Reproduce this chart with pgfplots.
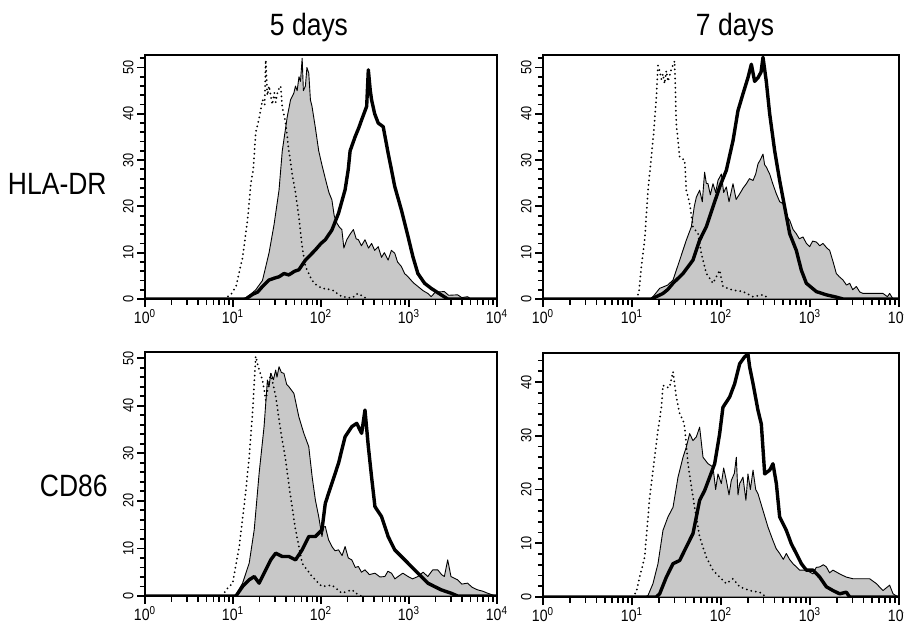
\documentclass[border=0pt]{standalone}
\usepackage{fontspec}
\setmainfont{Liberation Sans}[FakeStretch=0.86]
\usepackage{pgfplots}
\usepackage{pgfplotstable}
\pgfplotsset{compat=1.18}
\definecolor{histgray}{RGB}{200,200,200}

% ---------------- Top-left: HLA-DR, 5 days ----------------
\pgfplotstableread{
lx y
0.90 0
0.977 1.0
1.034 2.7
1.109 9
1.165 17
1.203 25
1.230 28
1.259 36
1.297 39
1.335 43
1.360 42
1.372 51.6
1.390 44
1.41 46
1.447 42
1.47 44.5
1.485 42.5
1.51 45
1.541 46
1.56 41.5
1.598 38
1.635 32
1.673 27
1.71 23
1.748 17.8
1.786 11.3
1.823 7
1.898 4
1.95 3
2.011 2.3
2.124 2
2.237 0.5
2.35 0.2
2.42 1.2
2.5 0.3
2.55 0
}\tldot
\pgfplotstableread{
lx y
1.10 0
1.147 0.3
1.20 1
1.259 2
1.335 4
1.410 10
1.466 16
1.523 23.5
1.560 32
1.617 39.4
1.654 43
1.692 44.5
1.71 46
1.729 45
1.75 48
1.767 47
1.786 52
1.80 45
1.823 46
1.84 50
1.861 48.8
1.88 43
1.898 41.6
1.936 37
1.974 32
2.01 29
2.049 26
2.09 23
2.124 21.4
2.15 18
2.180 16.4
2.21 15.5
2.237 15
2.26 11
2.293 12.8
2.331 14
2.368 15
2.40 13
2.425 12.8
2.46 11.5
2.5 12.8
2.54 11
2.575 12
2.61 10.5
2.650 11.3
2.688 9
2.72 10
2.763 8.4
2.80 10.5
2.838 9.9
2.87 8
2.914 7
2.95 5.5
2.989 4.8
3.05 3.5
3.102 2.7
3.16 1.8
3.214 1.2
3.252 0.5
3.30 1.5
3.402 1.6
3.45 0.8
3.553 0.9
3.60 0.3
3.665 0.5
3.703 0
}\tlgray
\pgfplotstableread{
lx y
0 0
1.147 0
1.222 1
1.28 1.5
1.335 2.7
1.410 4.1
1.47 4.5
1.523 4.8
1.58 5.5
1.635 5.2
1.70 6
1.748 6.3
1.823 8.4
1.88 9.5
1.936 10.6
2.00 12
2.049 12.8
2.124 14.9
2.199 18.5
2.274 23.6
2.31 28
2.331 32
2.387 35
2.43 37
2.462 38.7
2.519 41.6
2.538 49.5
2.56 45
2.575 43
2.61 40
2.650 38
2.707 37.2
2.763 31.5
2.80 28
2.838 24.3
2.914 19.2
2.989 13.5
3.045 9.1
3.101 5.5
3.177 3.4
3.252 2.3
3.365 0.9
3.440 0
4 0
}\tlthick

% ---------------- Top-right: HLA-DR, 7 days ----------------
\pgfplotstableread{
lx y
1.05 0
1.079 1.6
1.105 7
1.142 12.7
1.180 23.5
1.217 30.6
1.243 35.7
1.273 43.5
1.292 50.4
1.311 49.3
1.330 47.5
1.348 48.6
1.366 46.5
1.386 49.3
1.404 47
1.42 48
1.442 49.6
1.479 51.4
1.498 37.8
1.536 30.6
1.592 30
1.610 23.5
1.648 20.6
1.685 15.6
1.742 14.1
1.779 9.8
1.835 5.5
1.910 3.4
1.985 6.2
2.022 2.7
2.135 1.9
2.247 1.6
2.360 0.5
2.472 0.9
2.547 0
}\trdot
\pgfplotstableread{
lx y
1.20 0
1.236 0.5
1.311 2.3
1.40 3
1.461 4.1
1.536 8.4
1.610 12.7
1.667 15.6
1.70 20
1.723 22
1.760 23.5
1.79 21
1.816 27.4
1.835 25
1.854 24.9
1.88 22.5
1.910 24.9
1.94 23
1.966 25.6
2.004 27
2.03 23
2.060 24.2
2.09 21
2.135 24.9
2.17 21.5
2.210 22.7
2.25 24
2.285 24.9
2.32 26
2.360 25.6
2.39 27
2.416 29.2
2.44 30
2.472 31.3
2.49 29
2.509 28.5
2.547 27
2.58 25
2.622 22.7
2.66 21
2.697 20.6
2.735 18
2.772 17
2.81 15
2.846 14.1
2.88 13
2.921 13.4
2.96 12
2.996 11.3
3.03 12.5
3.071 12.3
3.11 11.5
3.146 12
3.19 11
3.221 10.5
3.26 8
3.296 5.5
3.33 4.8
3.371 4.1
3.41 3
3.446 3.4
3.48 2
3.521 2.7
3.56 1.5
3.596 1.2
3.708 1.2
3.820 1.2
3.87 0.5
3.895 1.2
3.933 0
}\trgray
\pgfplotstableread{
lx y
0 0
1.217 0
1.273 0.5
1.348 1.2
1.40 2
1.461 3.4
1.573 5.5
1.685 8.4
1.760 12.7
1.835 15.6
1.910 19.9
1.985 24.2
2.060 27.8
2.135 34.2
2.191 40.7
2.247 44.3
2.303 47.8
2.341 50.7
2.378 47
2.416 47.8
2.45 49
2.472 52.2
2.509 47
2.547 40
2.603 32
2.659 25.6
2.715 19.9
2.772 14.1
2.846 10.5
2.903 6.2
2.959 3.4
3.071 1.6
3.184 0.9
3.296 0.4
3.371 0
4 0
}\trthick

% ---------------- Bottom-left: CD86, 5 days ----------------
\pgfplotstableread{
lx y
0.88 0
0.921 1.3
0.996 2.7
1.071 10.4
1.147 22.3
1.184 29.3
1.222 38.4
1.259 50.4
1.297 47.5
1.335 45.4
1.372 41.2
1.429 46.8
1.485 42
1.541 34.9
1.598 28.6
1.654 20.9
1.711 13.9
1.786 6.9
1.898 4.1
2.011 2
2.124 2.3
2.237 0.6
2.350 1.3
2.425 0.2
2.46 0
}\bldot
\pgfplotstableread{
lx y
1.00 0
1.034 0.3
1.109 2.7
1.184 6.9
1.241 13.9
1.297 25.8
1.353 35.6
1.391 45.4
1.41 44
1.429 46.8
1.46 45.5
1.485 47.5
1.50 46
1.523 48.2
1.55 47
1.579 46.8
1.61 44.5
1.635 44
1.692 42.6
1.748 37.7
1.805 34.2
1.861 31.4
1.90 25
1.936 20.2
1.974 16.7
2.011 12.5
2.03 14.5
2.049 14.6
2.086 11.8
2.124 10.4
2.16 9.5
2.199 9.7
2.24 8.5
2.274 10.4
2.31 8
2.350 7.6
2.39 6
2.425 6.2
2.46 5
2.5 5.5
2.55 4.5
2.613 4.8
2.67 4
2.726 4.1
2.76 5.2
2.801 4.8
2.84 3.6
2.876 4.1
2.93 4.8
2.989 4.1
3.04 3.6
3.102 4.1
3.16 5
3.214 4.1
3.27 5.5
3.327 5.5
3.37 4.5
3.402 4.1
3.440 7.6
3.477 4.1
3.553 3.4
3.60 2.5
3.665 2.7
3.72 1.8
3.778 1.3
3.84 1.0
3.891 0.6
3.985 0
}\blgray
\pgfplotstableread{
lx y
0 0
1.034 0
1.109 2
1.184 3.4
1.241 4.1
1.297 2.7
1.372 5.5
1.429 7.6
1.485 9
1.560 8.3
1.635 8.3
1.711 7.6
1.786 9.7
1.861 12.5
1.936 12.5
2.011 13.9
2.049 19.5
2.124 23.7
2.199 27.9
2.274 33.5
2.350 35.6
2.406 36.3
2.462 34.2
2.5 39.1
2.538 31.4
2.575 25
2.613 18.8
2.688 16.7
2.763 12.5
2.838 9.7
2.914 8.3
2.989 6.9
3.064 5.5
3.139 4.1
3.214 2.7
3.289 2
3.365 1.3
3.477 0.6
3.553 0
4 0
}\blthick

% ---------------- Bottom-right: CD86, 7 days ----------------
\pgfplotstableread{
lx y
1.00 0
1.049 0.9
1.086 3.7
1.142 7.4
1.199 18.6
1.255 26
1.292 31
1.330 35.3
1.348 39.4
1.386 39
1.423 39
1.461 41.9
1.498 37.2
1.536 34.1
1.573 32.9
1.592 31.6
1.629 24.8
1.685 18.6
1.760 11.2
1.835 7.4
1.910 5
1.985 3.7
2.060 2.5
2.135 3.4
2.210 1.9
2.322 1.2
2.434 0.9
2.509 0
}\brdot
\pgfplotstableread{
lx y
1.15 0
1.180 0.3
1.236 2.5
1.292 6.2
1.348 12.4
1.404 14.9
1.461 16.7
1.517 22.3
1.573 26
1.610 27.9
1.648 30.4
1.685 29.1
1.723 29.8
1.760 31.6
1.798 26
1.854 24.8
1.910 24.2
1.94 20
1.966 22.9
2.004 21.1
2.03 24
2.060 21.7
2.09 19
2.116 21.7
2.15 23
2.172 26
2.191 19
2.210 21.1
2.247 22.3
2.28 18
2.303 22.9
2.33 20
2.360 23.6
2.39 20
2.416 19.2
2.472 16.1
2.528 13
2.584 10.5
2.62 9
2.659 8.1
2.70 7
2.734 8.1
2.77 7
2.809 6.2
2.884 5
2.959 5
3.034 4.3
3.07 5.5
3.109 5.6
3.15 6
3.184 5.6
3.22 4.5
3.258 5
3.333 4.3
3.408 3.7
3.483 3.4
3.558 3.4
3.670 3.4
3.745 2.5
3.820 1.2
3.895 2.2
3.933 0.6
3.989 0
}\brgray
\pgfplotstableread{
lx y
0 0
1.273 0
1.311 0.6
1.386 3.7
1.461 6.2
1.536 6.8
1.610 9.3
1.685 11.8
1.723 14.9
1.760 18
1.816 19.8
1.873 22.3
1.929 24.8
1.985 30.4
2.022 35.3
2.097 37.2
2.154 39.7
2.210 43.4
2.266 44.7
2.303 45.2
2.322 42.8
2.360 39.7
2.416 34.7
2.453 32.2
2.491 22.9
2.547 23.6
2.584 24.8
2.622 21.1
2.659 14.9
2.734 12.4
2.790 9.9
2.846 8.1
2.903 6.2
2.959 5
3.034 5
3.109 3.7
3.184 1.9
3.258 1.2
3.333 0.6
3.408 0.9
3.446 0
4 0
}\brthick

\pgfplotsset{
  flowax/.style={
    scale only axis,
    xmin=1, xmax=10000, ymin=0,
    axis line style={line width=0.8bp},
    tick align=outside,
    xtick pos=bottom, ytick pos=left,
    major tick length=4bp,
    tick style={black, line width=0.9bp},
    xtick={1,10,100,1000,10000},
    xticklabels={10\textsuperscript{0},10\textsuperscript{1},10\textsuperscript{2},10\textsuperscript{3},10\textsuperscript{4}},
    ytick={0,10,...,50},
    extra x ticks={2,3,4,5,6,7,8,9,20,30,40,50,60,70,80,90,200,300,400,500,600,700,800,900,2000,3000,4000,5000,6000,7000,8000,9000},
    extra x tick labels={},
    extra x tick style={major tick length=2.4bp, tick style={black, line width=0.9bp}},
    extra y ticks={2,4,6,8,12,14,16,18,22,24,26,28,32,34,36,38,42,44,46,48,52},
    extra y tick labels={},
    extra y tick style={major tick length=2.6bp, tick style={black, line width=0.9bp}},
    yticklabel style={rotate=90, anchor=south, inner sep=1.5bp, font=\fontsize{7.4bp}{8bp}\selectfont, /pgf/number format/assume math mode=true},
    xticklabel style={inner sep=1.2bp, font=\fontsize{8.2bp}{9bp}\selectfont},
  },
  grayh/.style={fill=histgray, draw=black, line width=0.45bp, line join=round},
  dotc/.style={black, line width=1.0bp, line cap=round, dash pattern=on 0bp off 2.3bp},
  thickh/.style={black, line width=1.7bp, line join=round},
}

\begin{document}
\begin{tikzpicture}
\useasboundingbox (0,0) rectangle (452bp,311.5bp);

\node[anchor=base, font=\fontsize{15.4bp}{18bp}\selectfont] at (154.5bp,293.5bp) {5 days};
\node[anchor=base, font=\fontsize{15.4bp}{18bp}\selectfont] at (367.5bp,293.5bp) {7 days};
\node[anchor=base east, inner sep=0pt, font=\fontsize{15.4bp}{18bp}\selectfont] at (53.5bp,214bp) {HLA-DR};
\node[anchor=base east, inner sep=0pt, font=\fontsize{15.4bp}{18bp}\selectfont] at (54bp,63.2bp) {CD86};

\begin{semilogxaxis}[flowax, at={(72.5bp,162bp)}, anchor=south west, width=176bp, height=122bp, ymax=52.7]
\addplot[grayh] table[x expr=10^\thisrow{lx}, y=y]{\tlgray} \closedcycle;
\addplot[dotc] table[x expr=10^\thisrow{lx}, y=y]{\tldot};
\addplot[thickh] table[x expr=10^\thisrow{lx}, y=y]{\tlthick};
\end{semilogxaxis}

\begin{semilogxaxis}[flowax, at={(271.5bp,162bp)}, anchor=south west, width=178bp, height=122bp, ymax=52.7]
\addplot[grayh] table[x expr=10^\thisrow{lx}, y=y]{\trgray} \closedcycle;
\addplot[dotc] table[x expr=10^\thisrow{lx}, y=y]{\trdot};
\addplot[thickh] table[x expr=10^\thisrow{lx}, y=y]{\trthick};
\end{semilogxaxis}

\begin{semilogxaxis}[flowax, at={(72.5bp,13.5bp)}, anchor=south west, width=176bp, height=122bp, ymax=51.3]
\addplot[grayh] table[x expr=10^\thisrow{lx}, y=y]{\blgray} \closedcycle;
\addplot[dotc] table[x expr=10^\thisrow{lx}, y=y]{\bldot};
\addplot[thickh] table[x expr=10^\thisrow{lx}, y=y]{\blthick};
\end{semilogxaxis}

\begin{semilogxaxis}[flowax, at={(271.5bp,13bp)}, anchor=south west, width=178bp, height=122bp, ymax=45.4, ytick={0,10,...,40}, extra y ticks={2,4,6,8,12,14,16,18,22,24,26,28,32,34,36,38,42,44}]
\addplot[grayh] table[x expr=10^\thisrow{lx}, y=y]{\brgray} \closedcycle;
\addplot[dotc] table[x expr=10^\thisrow{lx}, y=y]{\brdot};
\addplot[thickh] table[x expr=10^\thisrow{lx}, y=y]{\brthick};
\end{semilogxaxis}
\end{tikzpicture}
\end{document}
